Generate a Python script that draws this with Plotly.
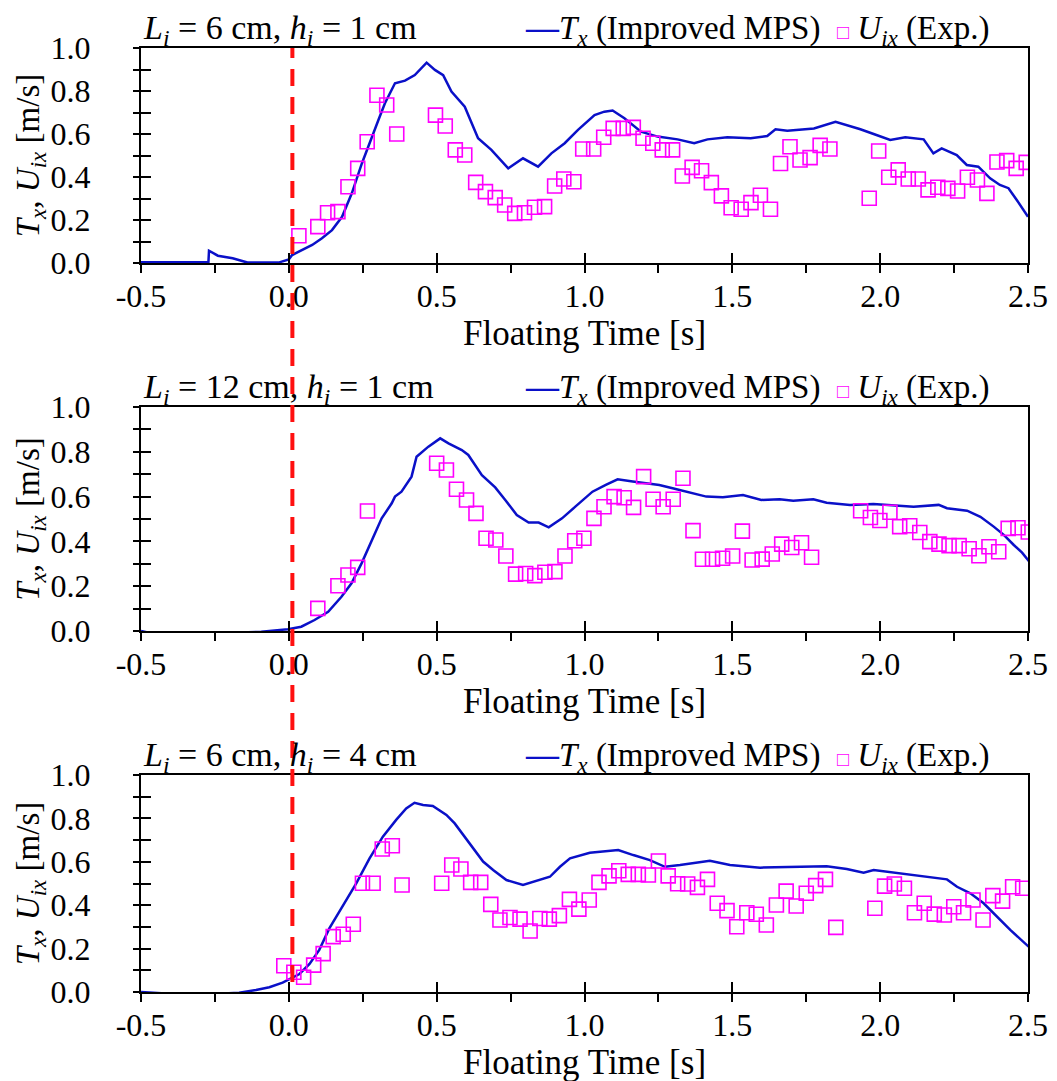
import plotly.graph_objects as go

# --- panel 1: Li = 6 cm, hi = 1 cm ---
t_mps_1 = [-0.5, -0.4, -0.3, -0.272, -0.27, -0.24, -0.19, -0.14, -0.035, 0.0, 0.011, 0.045, 0.079,
           0.112, 0.146, 0.18, 0.213, 0.247, 0.281, 0.303, 0.325, 0.359, 0.393, 0.426, 0.466, 0.494,
           0.522, 0.55, 0.595, 0.64, 0.685, 0.742, 0.792, 0.843, 0.888, 0.933, 0.978, 1.034, 1.067,
           1.095, 1.135, 1.191, 1.247, 1.315, 1.371, 1.416, 1.483, 1.562, 1.618, 1.646, 1.686, 1.776,
           1.849, 1.888, 1.933, 1.978, 2.034, 2.085, 2.147, 2.18, 2.208, 2.259, 2.293, 2.332, 2.372,
           2.405, 2.434, 2.462, 2.5]
v_mps_1 = [0.003, 0.002, 0.003, 0.003, 0.057, 0.034, 0.022, 0.002, 0.002, 0.017, 0.037, 0.06, 0.084,
           0.115, 0.153, 0.215, 0.324, 0.463, 0.58, 0.665, 0.743, 0.836, 0.848, 0.874, 0.932, 0.898,
           0.874, 0.797, 0.727, 0.58, 0.526, 0.44, 0.487, 0.448, 0.51, 0.557, 0.619, 0.688, 0.704,
           0.709, 0.673, 0.611, 0.588, 0.575, 0.557, 0.575, 0.585, 0.58, 0.591, 0.622, 0.615, 0.626,
           0.657, 0.641, 0.622, 0.6, 0.572, 0.585, 0.575, 0.51, 0.533, 0.502, 0.456, 0.448, 0.394,
           0.363, 0.348, 0.293, 0.215]
t_exp_1 = [0.034, 0.098, 0.131, 0.166, 0.2, 0.233, 0.265, 0.298, 0.331, 0.365, 0.496, 0.529, 0.563,
           0.595, 0.632, 0.665, 0.698, 0.73, 0.764, 0.797, 0.831, 0.865, 0.899, 0.93, 0.964, 0.994,
           1.031, 1.065, 1.097, 1.131, 1.165, 1.198, 1.231, 1.263, 1.298, 1.331, 1.364, 1.396, 1.429,
           1.463, 1.496, 1.53, 1.563, 1.595, 1.629, 1.663, 1.695, 1.729, 1.763, 1.797, 1.83, 1.963,
           1.995, 2.029, 2.061, 2.095, 2.129, 2.162, 2.195, 2.229, 2.262, 2.295, 2.329, 2.361, 2.395,
           2.428, 2.46, 2.494]
v_exp_1 = [0.127, 0.169, 0.234, 0.239, 0.355, 0.44, 0.564, 0.78, 0.735, 0.6, 0.688, 0.637, 0.526,
           0.502, 0.375, 0.332, 0.304, 0.27, 0.231, 0.234, 0.259, 0.262, 0.358, 0.391, 0.378, 0.53,
           0.53, 0.585, 0.626, 0.626, 0.631, 0.58, 0.557, 0.526, 0.526, 0.405, 0.445, 0.429, 0.374,
           0.312, 0.257, 0.25, 0.281, 0.315, 0.25, 0.463, 0.541, 0.479, 0.49, 0.547, 0.53, 0.301,
           0.521, 0.399, 0.433, 0.391, 0.391, 0.34, 0.352, 0.347, 0.335, 0.399, 0.386, 0.324, 0.47,
           0.476, 0.44, 0.468]

# --- panel 2: Li = 12 cm, hi = 1 cm ---
t_mps_2 = [-0.5, -0.455, -0.263, -0.093, -0.003, 0.042, 0.087, 0.133, 0.178, 0.212, 0.246, 0.28,
           0.314, 0.348, 0.359, 0.381, 0.415, 0.432, 0.472, 0.512, 0.54, 0.585, 0.607, 0.653, 0.698,
           0.732, 0.771, 0.811, 0.845, 0.879, 0.924, 0.969, 1.027, 1.072, 1.112, 1.163, 1.208, 1.253,
           1.298, 1.355, 1.412, 1.468, 1.536, 1.598, 1.66, 1.706, 1.774, 1.819, 1.898, 1.977, 2.068,
           2.113, 2.198, 2.226, 2.294, 2.339, 2.384, 2.418, 2.452, 2.48, 2.509]
v_mps_2 = [0.0, -0.013, -0.013, -0.003, 0.008, 0.019, 0.049, 0.086, 0.153, 0.213, 0.302, 0.399,
           0.503, 0.57, 0.6, 0.622, 0.689, 0.778, 0.823, 0.86, 0.838, 0.808, 0.786, 0.696, 0.641,
           0.585, 0.518, 0.484, 0.484, 0.463, 0.503, 0.555, 0.622, 0.652, 0.677, 0.667, 0.659, 0.652,
           0.637, 0.618, 0.6, 0.597, 0.607, 0.585, 0.588, 0.582, 0.588, 0.573, 0.563, 0.567, 0.558,
           0.555, 0.563, 0.548, 0.537, 0.51, 0.466, 0.429, 0.384, 0.35, 0.302]
t_exp_2 = [0.098, 0.166, 0.2, 0.233, 0.266, 0.5, 0.533, 0.567, 0.601, 0.633, 0.667, 0.7, 0.734,
           0.767, 0.801, 0.832, 0.866, 0.9, 0.934, 0.967, 0.998, 1.032, 1.066, 1.1, 1.134, 1.166,
           1.2, 1.232, 1.266, 1.3, 1.333, 1.367, 1.399, 1.433, 1.467, 1.501, 1.534, 1.567, 1.601,
           1.635, 1.667, 1.701, 1.734, 1.768, 1.934, 1.967, 1.999, 2.033, 2.066, 2.1, 2.134, 2.168,
           2.199, 2.233, 2.267, 2.301, 2.334, 2.368, 2.401, 2.433, 2.466, 2.501]
v_exp_2 = [0.101, 0.202, 0.25, 0.284, 0.536, 0.749, 0.719, 0.633, 0.585, 0.525, 0.414, 0.406, 0.335,
           0.254, 0.257, 0.247, 0.262, 0.265, 0.335, 0.403, 0.414, 0.503, 0.555, 0.6, 0.595, 0.552,
           0.689, 0.588, 0.555, 0.588, 0.682, 0.448, 0.32, 0.32, 0.325, 0.335, 0.446, 0.317, 0.321,
           0.344, 0.388, 0.373, 0.394, 0.329, 0.537, 0.507, 0.493, 0.53, 0.466, 0.47, 0.44, 0.399,
           0.388, 0.381, 0.381, 0.367, 0.336, 0.376, 0.354, 0.458, 0.461, 0.442]

# --- panel 3: Li = 6 cm, hi = 4 cm ---
t_mps_3 = [-0.5, -0.428, -0.258, -0.168, -0.111, -0.066, -0.021, 0.002, 0.036, 0.07, 0.103, 0.137,
           0.182, 0.228, 0.273, 0.318, 0.363, 0.397, 0.425, 0.454, 0.487, 0.533, 0.561, 0.589, 0.623,
           0.657, 0.691, 0.736, 0.792, 0.838, 0.883, 0.917, 0.951, 1.018, 1.052, 1.114, 1.165, 1.221,
           1.272, 1.323, 1.424, 1.492, 1.594, 1.707, 1.819, 1.887, 1.944, 1.978, 2.068, 2.158, 2.226,
           2.26, 2.305, 2.35, 2.395, 2.44, 2.502]
v_mps_3 = [0.0, -0.006, -0.01, -0.003, 0.009, 0.022, 0.043, 0.058, 0.083, 0.129, 0.194, 0.293,
           0.393, 0.501, 0.616, 0.716, 0.793, 0.846, 0.872, 0.862, 0.857, 0.816, 0.777, 0.724, 0.662,
           0.601, 0.562, 0.516, 0.493, 0.513, 0.531, 0.577, 0.616, 0.642, 0.647, 0.654, 0.631, 0.608,
           0.577, 0.585, 0.605, 0.585, 0.573, 0.577, 0.58, 0.567, 0.55, 0.562, 0.547, 0.531, 0.519,
           0.485, 0.455, 0.409, 0.347, 0.286, 0.209]
t_exp_3 = [-0.017, 0.017, 0.05, 0.084, 0.116, 0.15, 0.184, 0.218, 0.249, 0.285, 0.316, 0.35, 0.383,
           0.517, 0.551, 0.582, 0.615, 0.649, 0.683, 0.714, 0.748, 0.782, 0.816, 0.849, 0.881, 0.915,
           0.949, 0.981, 1.016, 1.049, 1.083, 1.116, 1.148, 1.182, 1.216, 1.25, 1.283, 1.315, 1.349,
           1.382, 1.416, 1.449, 1.482, 1.515, 1.549, 1.581, 1.615, 1.649, 1.682, 1.716, 1.75, 1.782,
           1.815, 1.85, 1.982, 2.015, 2.048, 2.082, 2.116, 2.149, 2.183, 2.217, 2.249, 2.282, 2.314,
           2.348, 2.381, 2.414, 2.448, 2.482]
v_exp_3 = [0.121, 0.091, 0.068, 0.124, 0.177, 0.255, 0.266, 0.312, 0.501, 0.501, 0.659, 0.674, 0.493,
           0.501, 0.585, 0.567, 0.505, 0.505, 0.404, 0.332, 0.343, 0.336, 0.281, 0.339, 0.336, 0.352,
           0.427, 0.382, 0.424, 0.505, 0.535, 0.559, 0.542, 0.542, 0.539, 0.604, 0.535, 0.499, 0.498,
           0.482, 0.519, 0.409, 0.375, 0.301, 0.365, 0.358, 0.309, 0.401, 0.465, 0.396, 0.455, 0.49,
           0.519, 0.298, 0.386, 0.488, 0.498, 0.478, 0.365, 0.409, 0.359, 0.355, 0.393, 0.365, 0.424,
           0.332, 0.444, 0.419, 0.485, 0.478]

titles = ["<i>L<sub>i</sub></i> = 6 cm, <i>h<sub>i</sub></i> = 1 cm",
          "<i>L<sub>i</sub></i> = 12 cm, <i>h<sub>i</sub></i> = 1 cm",
          "<i>L<sub>i</sub></i> = 6 cm, <i>h<sub>i</sub></i> = 4 cm"]
name_mps = "<i>T<sub>x</sub></i> (Improved MPS)"
name_exp = "<i>U<sub>ix</sub></i> (Exp.)"

x_ticks = [-0.5, 0.0, 0.5, 1.0, 1.5, 2.0, 2.5]
x_ticktext = ["-0.5", "0.0", "0.5", "1.0", "1.5", "2.0", "2.5"]
y_ticks = [0.0, 0.2, 0.4, 0.6, 0.8, 1.0]
y_ticktext = ["0.0", "0.2", "0.4", "0.6", "0.8", "1.0"]

W, H = 1057, 1081
FONT = "Liberation Serif, Times New Roman, serif"
FS = 32
BLUE = "#0a10c8"
MAGENTA = "#ff00ff"

# the page body adds an 8px offset, so positions are given 8px up/left
xdom = [133 / W, 1020 / W]
ydoms = [[1 - 255 / H, 1 - 40 / H], [1 - 623 / H, 1 - 399 / H], [1 - 984 / H, 1 - 767 / H]]

data = [(t_mps_1, v_mps_1, t_exp_1, v_exp_1),
        (t_mps_2, v_mps_2, t_exp_2, v_exp_2),
        (t_mps_3, v_mps_3, t_exp_3, v_exp_3)]

fig = go.Figure()
layout = {}
annotations = []

key_text = ("<span style='color:%s'><b>—</b></span>%s  "
            "<span style='color:%s;font-size:20px'>□</span> %s") % (BLUE, name_mps, MAGENTA, name_exp)

for i, (tm, vm, te, ve) in enumerate(data):
    n = i + 1
    ov = i + 4  # overlay axes carrying the inside ticks
    xs = "x" if n == 1 else "x%d" % n
    ys = "y" if n == 1 else "y%d" % n

    fig.add_trace(go.Scatter(x=tm, y=vm, mode="lines", xaxis=xs, yaxis=ys,
                             line=dict(color=BLUE, width=2.5), name=name_mps, showlegend=False))
    fig.add_trace(go.Scatter(x=te, y=ve, mode="markers", xaxis=xs, yaxis=ys,
                             marker=dict(symbol="square-open", size=14, color=MAGENTA,
                                         line=dict(width=1.6, color=MAGENTA)),
                             name=name_exp, showlegend=False))
    # empty trace so the overlay axes get drawn
    fig.add_trace(go.Scatter(x=[], y=[], xaxis="x%d" % ov, yaxis="y%d" % ov,
                             showlegend=False, hoverinfo="skip"))

    xname = "xaxis" if n == 1 else "xaxis%d" % n
    yname = "yaxis" if n == 1 else "yaxis%d" % n
    layout[xname] = dict(
        domain=xdom, anchor=ys, range=[-0.5, 2.5], automargin=False,
        tickvals=x_ticks, ticktext=x_ticktext,
        ticks="outside", ticklen=8, tickwidth=2, tickcolor="black",
        minor=dict(dtick=0.25, tick0=0, ticks="outside", ticklen=8, tickwidth=2, tickcolor="black"),
        showline=True, linecolor="black", linewidth=2, mirror=True,
        showgrid=False, zeroline=False, ticklabelstandoff=-4,
        tickfont=dict(size=FS),
        title=dict(text="Floating Time [s]", font=dict(size=35), standoff=2),
    )
    layout[yname] = dict(
        domain=ydoms[i], anchor=xs, range=[0, 1.0], automargin=False,
        tickvals=y_ticks, ticktext=y_ticktext,
        ticks="outside", ticklen=6, tickwidth=2, tickcolor="black",
        minor=dict(dtick=0.1, tick0=0, ticks="outside", ticklen=6, tickwidth=2, tickcolor="black"),
        showline=True, linecolor="black", linewidth=2, mirror=True,
        showgrid=False, zeroline=False, ticklabelstandoff=36,
        tickfont=dict(size=FS),
        title=dict(text="<i>T<sub>x</sub></i>, <i>U<sub>ix</sub></i> [m/s]", font=dict(size=33), standoff=0),
    )
    layout["xaxis%d" % ov] = dict(
        overlaying=xs, anchor="y%d" % ov, range=[-0.5, 2.5], dtick=0.5, tick0=0, automargin=False,
        ticks="inside", ticklen=10, tickwidth=2, tickcolor="black",
        showticklabels=False, showgrid=False, zeroline=False, showline=False,
    )
    layout["yaxis%d" % ov] = dict(
        overlaying=ys, anchor="x%d" % ov, range=[0, 1.0], dtick=0.1, tick0=0, automargin=False,
        ticks="inside", ticklen=10, tickwidth=2, tickcolor="black",
        showticklabels=False, showgrid=False, zeroline=False, showline=False,
    )
    annotations.append(dict(
        text=titles[i], xref="paper", yref="paper", x=xdom[0] + 0.001, y=ydoms[i][1],
        xanchor="left", yanchor="bottom", yshift=-4, borderpad=0, showarrow=False,
        font=dict(size=34),
    ))
    annotations.append(dict(
        text=key_text, xref="paper", yref="paper", x=982 / W, y=ydoms[i][1],
        xanchor="right", yanchor="bottom", yshift=-4, borderpad=0, showarrow=False,
        font=dict(size=33),
    ))

fig.update_layout(**layout)
fig.update_layout(
    width=W, height=H,
    margin=dict(l=0, r=0, t=0, b=0),
    paper_bgcolor="white", plot_bgcolor="white",
    font=dict(family=FONT, size=FS, color="black"),
    showlegend=False,
    annotations=annotations,
    shapes=[dict(type="line", xref="x", yref="paper", x0=0.012, x1=0.012,
                 y0=1 - 974 / H, y1=1 - 40 / H, layer="above",
                 line=dict(color="#ff1010", width=4, dash="17px,11px"))],
)

fig.write_html("out.html")
